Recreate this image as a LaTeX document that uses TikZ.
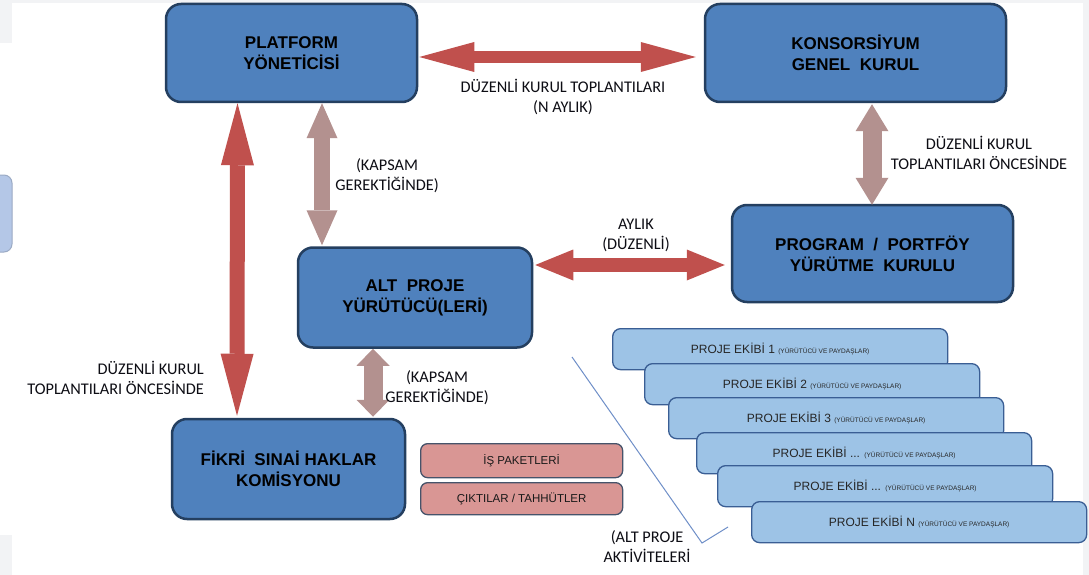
\documentclass[tikz,border=0pt]{standalone}
\usepackage{fontspec}
\setmainfont{Liberation Sans}
\newfontfamily\lblfont{Carlito}
\usetikzlibrary{arrows.meta,calc}
\definecolor{boxblue}{HTML}{4F81BD}
\definecolor{boxedge}{HTML}{243F60}
\definecolor{arrred}{HTML}{C0504D}
\definecolor{arrmauve}{HTML}{B3918F}
\definecolor{teamfill}{HTML}{9DC3E6}
\definecolor{teamedge}{HTML}{3A5E94}
\definecolor{pinkfill}{HTML}{D99694}
\definecolor{pinkedge}{HTML}{46536A}
\definecolor{lbltext}{HTML}{0D0D14}
\definecolor{bracketc}{HTML}{6F8FC8}
\definecolor{edgegray}{HTML}{F2F3F5}
\definecolor{sidefill}{HTML}{B4C7E7}
\definecolor{sideedge}{HTML}{9BAAC4}
\tikzset{
  bigbox/.style={rounded corners=15pt, fill=boxblue, draw=boxedge, line width=2.5pt,
    align=center, font=\fontsize{17}{21}\selectfont\bfseries, text=black, inner sep=0pt},
  team/.style={rounded corners=8pt, fill=teamfill, draw=teamedge, line width=1.3pt,
    minimum width=335pt, minimum height=41pt, inner sep=0pt, anchor=north west,
    font=\fontsize{12}{14}\selectfont, text=black!85},
  pinkbox/.style={rounded corners=7pt, fill=pinkfill, draw=pinkedge, line width=1.3pt,
    minimum width=202pt, inner sep=0pt, anchor=north west,
    font=\fontsize{11.5}{14}\selectfont, text=black!90},
  lbl/.style={font=\lblfont\fontsize{16.3}{20}\selectfont, text=lbltext, align=center, inner sep=0pt},
  dbl/.style n args={4}{draw=#4, line width=#3,
    arrows={Triangle[length=#1,width=#2,line width=0pt,fill=#4]-Triangle[length=#1,width=#2,line width=0pt,fill=#4]}},
}
\newcommand{\yv}{{\fontsize{6.5}{7}\selectfont (YÜRÜTÜCÜ VE PAYDAŞLAR)}}
\begin{document}
\begin{tikzpicture}[x=1pt,y=-1pt]
\useasboundingbox (0,0) rectangle (1089,575);
\fill[white] (0,0) rectangle (1089,575);
\fill[edgegray] (0,0) rectangle (1089,3);
\fill[edgegray] (0,0) rectangle (12,43);
\fill[edgegray] (0,535) rectangle (12,575);
\fill[edgegray] (1083,0) rectangle (1089,575);
\draw[fill=sidefill, draw=sideedge, line width=1pt, rounded corners=8pt] (-20,175) rectangle (12,252);

% main boxes
\node[bigbox, minimum width=251pt, minimum height=98pt] (plat) at (291.5,53) {PLATFORM\\YÖNETİCİSİ};
\node[bigbox, minimum width=301pt, minimum height=98pt] (kons) at (855.5,53) {KONSORSİYUM\\GENEL~~KURUL};
\node[bigbox, minimum width=281pt, minimum height=97pt] (prog) at (872.5,253.5) {PROGRAM~~/~~PORTFÖY\\YÜRÜTME~~KURULU};
\node[bigbox, minimum width=234pt, minimum height=100pt] (alt) at (415,297.5) {ALT~~PROJE\\YÜRÜTÜCÜ(LERİ)};
\node[bigbox, minimum width=233pt, minimum height=100pt] (fikri) at (288.5,469) {FİKRİ~~SINAİ HAKLAR\\KOMİSYONU};

% pink boxes
\node[pinkbox, minimum height=34pt] (ip) at (420,443) {İŞ PAKETLERİ};
\node[pinkbox, minimum height=32pt] (cik) at (420,482) {ÇIKTILAR / TAHHÜTLER};

% bracket line
\coordinate (b1) at (572,357);
\coordinate (b2) at (702,543);
\coordinate (b3) at (728,527);
\draw[bracketc, line width=1pt] (b1) -- (b2) -- (b3);

% team boxes
\node[team] (t1) at (612,328) {PROJE EKİBİ 1 \yv};
\node[team] (t2) at (644,363) {PROJE EKİBİ 2 \yv};
\node[team] (t3) at (668,397) {PROJE EKİBİ 3 \yv};
\node[team] (t4) at (696,432) {PROJE EKİBİ ... \yv};
\node[team] (t5) at (717,465) {PROJE EKİBİ ... \yv};
\node[team] (t6) at (751,501) {PROJE EKİBİ N \yv};

% arrows
\draw[dbl={55pt}{30pt}{12pt}{arrred}] ($(plat.east)+(1,4)$) -- ($(kons.west)+(-8,4)$);
\draw[dbl={62pt}{33pt}{15pt}{arrred}] ($(plat.south)+(-54,0)$) -- ($(fikri.north)+(-51.5,-2)$);
\draw[dbl={35pt}{31pt}{16pt}{arrmauve}] ($(plat.south)+(30.5,0)$) -- ($(alt.north)+(-93,-1)$);
\draw[dbl={27pt}{33pt}{19pt}{arrmauve}] ($(kons.south)+(16.5,1)$) -- ($(prog.north)+(-0.5,1)$);
\draw[dbl={38pt}{31pt}{14pt}{arrred}] ($(alt.east)+(2,-32.5)$) -- ($(prog.west)+(-6,11.5)$);
\draw[dbl={17pt}{33pt}{19pt}{arrmauve}] ($(alt.south)+(-42,0)$) -- ($(fikri.north)+(84.5,-1)$);

% labels
\node[lbl] (l1) at (563,97) {DÜZENLİ KURUL TOPLANTILARI\\(N AYLIK)};
\node[lbl] (l2) at (387,176) {(KAPSAM\\GEREKTİĞİNDE)};
\node[lbl] (l3) at (979,153) {DÜZENLİ KURUL\\TOPLANTILARI ÖNCESİNDE};
\node[lbl] (l4) at (636,235) {AYLIK\\(DÜZENLİ)};
\node[lbl] (l5) at (437,388) {(KAPSAM\\GEREKTİĞİNDE)};
\node[lbl, align=right, anchor=east] (l6) at (204,378) {DÜZENLİ KURUL\\TOPLANTILARI ÖNCESİNDE};
\node[lbl] (l7) at (647,547) {(ALT PROJE\\AKTİVİTELERİ};
\end{tikzpicture}
\end{document}
